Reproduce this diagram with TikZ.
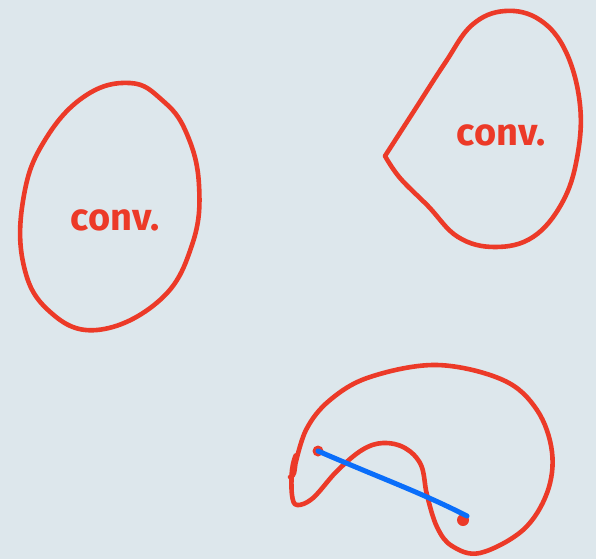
\documentclass[tikz,border=0pt]{standalone}
\usepackage{fontspec}
\setmainfont{Fira Sans}
\definecolor{bg}{RGB}{221,231,236}
\definecolor{pen}{RGB}{236,58,40}
\definecolor{bluepen}{RGB}{10,110,250}
\begin{document}
\begin{tikzpicture}[x=1pt,y=-1pt,
  redline/.style={draw=pen,line width=4.6pt,line join=round,line cap=round},
  blueline/.style={draw=bluepen,line width=5pt,line cap=round},
  label/.style={text=pen,font=\fontsize{38}{38}\bfseries\selectfont}]
\fill[bg] (0,0) rectangle (596,559);
\useasboundingbox (0,0) rectangle (596,559);
% left convex shape
\draw[redline] plot[smooth cycle,tension=0.7] coordinates {
  (130,83) (162,100) (186,132) (199,185) (192,245) (160,300)
  (97,330) (48,310) (23,262) (24,195) (45,140) (85,96)};
\node[label] (c1) at (115,220) {conv.};
% right convex shape (with corner on the left)
\draw[redline] plot[smooth,tension=0.65] coordinates {
  (385,156) (414,111) (445,63) (472,25) (505,11) (540,20) (566,52) (580,105)
  (577,158) (562,203) (533,237) (495,247) (458,237) (428,206) (400,178) (385,156)};
\node[label] (c2) at (501,135) {conv.};
% non-convex shape
\draw[redline] plot[smooth,tension=0.6] coordinates {
  (294,470) (306,430) (330,400) (370,377) (437,365) (503,380) (537,410)
  (552,452) (547,493) (523,530) (480,553) (452,546) (437,527) (427,495)
  (421,465) (405,448) (383,443) (362,450) (337,471) (313,498) (297,505)
  (292,495) (292,470) (296,455) (294,473) (290,477)};
% blue segment with red end points
\coordinate (p) at (318,451);
\coordinate (q) at (467,516);
\fill[pen] (p) circle (5.5);
\fill[pen] (463,520) circle (6);
\draw[blueline] (p) .. controls (380,478) and (420,492) .. (q);
\end{tikzpicture}
\end{document}
